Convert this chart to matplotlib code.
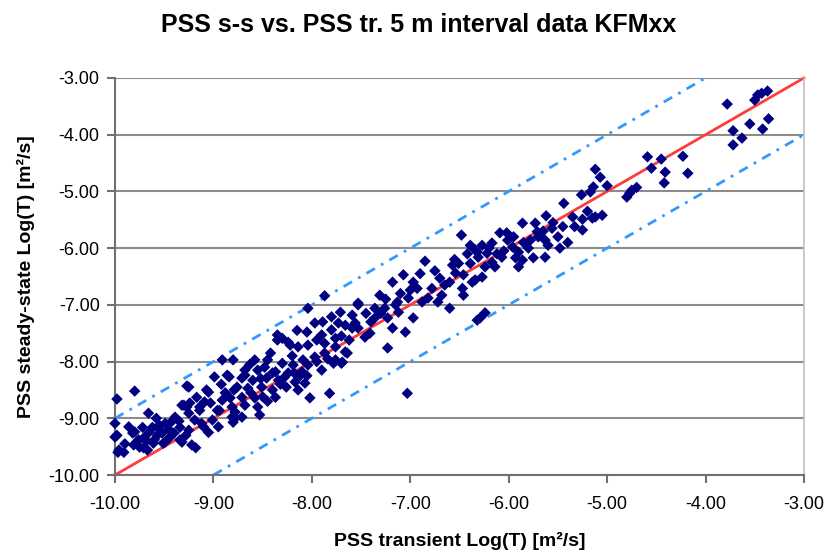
import numpy as np
import matplotlib
matplotlib.use("Agg")
import matplotlib.pyplot as plt

# PSS transient Log(T) / PSS steady-state Log(T)
pss_tr = [
    -9.98, -9.80, -9.66, -10.00, -9.98, -9.96, -9.91, -9.80, -9.76, -9.81,
    -9.71, -9.70, -9.62, -9.55, -9.49, -9.52, -9.60, -9.49, -9.40, -9.39,
    -9.30, -9.25, -9.34, -9.25, -9.22, -9.32, -9.19, -9.14, -9.09, -9.05,
    -8.99, -9.12, -9.01, -8.94, -8.91, -8.83, -8.84, -8.79, -8.78, -9.17,
    -9.27, -9.27, -8.91, -8.80, -9.07, -9.32, -9.24, -9.14, -9.03, -8.81,
    -8.80, -9.34, -8.96, -10.00, -9.97, -9.75, -9.82, -9.72, -9.65, -9.54,
    -9.47, -9.78, -9.67, -9.61, -9.51, -9.44, -9.25, -8.86, -8.81, -9.42,
    -9.58, -9.86, -9.90, -9.18, -8.95, -9.05, -9.57, -9.45, -9.35, -9.28,
    -9.10, -9.68,
    -7.87, -7.53, -8.04, -7.71, -7.59, -7.80, -7.97, -7.89, -7.73, -7.66,
    -7.80, -8.05, -7.90, -7.76, -7.59, -8.35, -8.24, -8.14, -8.04, -7.87,
    -7.76, -7.66, -7.87, -7.97, -8.09, -7.76, -7.69, -8.58, -8.45, -8.30,
    -8.19, -8.04, -7.90, -8.10, -8.68, -8.55, -8.37, -8.24, -8.71, -8.60,
    -8.46, -8.34, -8.17, -8.07, -8.76, -8.65, -8.51, -8.40, -8.14, -8.71,
    -8.58, -8.37, -8.02, -7.82, -8.68, -8.55, -8.53, -8.78, -8.71, -8.35,
    -8.30, -8.22, -8.68, -7.70, -7.78, -7.64, -8.48, -8.28, -8.20, -8.42,
    -8.62, -8.50, -8.12, -7.95, -7.84, -7.95, -8.15, -7.70, -7.62, -8.26,
    -8.45, -8.88, -8.92, -8.63, -8.52, -8.40, -8.32, -8.18, -8.05,
    -6.48, -6.39, -6.32, -6.85, -6.57, -6.51, -6.39, -6.54, -6.46, -6.37,
    -6.70, -6.65, -7.07, -7.18, -6.97, -6.93, -6.78, -7.00, -6.68, -6.47,
    -6.46, -7.31, -7.13, -7.02, -6.88, -6.82, -7.53, -7.36, -7.26, -7.12,
    -6.60, -6.97, -7.23, -7.36, -7.18, -7.53, -7.46, -7.41, -7.05, -7.23,
    -7.56, -7.03, -6.32, -7.40, -6.90, -6.75, -7.10, -6.60, -6.72, -7.45,
    -6.55, -6.42, -7.25, -7.30, -7.15,
    -5.26, -5.17, -5.44, -5.62, -5.15, -5.25, -5.33, -5.25, -5.45, -5.56,
    -5.73, -5.86, -5.71, -5.70, -5.63, -5.60, -5.48, -6.02, -6.09, -6.17,
    -6.27, -6.34, -6.22, -6.31, -6.17, -6.14, -6.07, -5.96, -5.90, -5.93,
    -5.90, -5.86, -5.75, -5.63, -6.24, -6.27, -6.34, -6.24, -6.29, -5.78,
    -6.01, -5.12, -5.07, -5.14, -5.05, -4.75, -4.70, -4.59, -5.50, -5.40,
    -5.80, -6.05, -5.95, -6.12, -5.65, -5.35, -5.55, -6.20, -5.85, -5.00,
    -5.20, -5.12,
    -3.78, -3.50, -3.47, -3.43, -3.37, -3.72, -3.55, -3.36, -3.42, -3.63,
    -3.72, -4.45, -4.23, -4.55, -4.41, -4.18, -4.42, -4.77, -4.80,
]
pss_ss = [
    -8.66, -8.52, -8.91, -9.09, -9.30, -9.56, -9.60, -9.24, -9.38, -9.47,
    -9.52, -9.33, -9.16, -9.12, -9.09, -9.26, -9.38, -9.42, -9.26, -8.98,
    -8.77, -8.45, -9.16, -9.21, -9.47, -9.42, -9.03, -8.86, -8.71, -8.54,
    -8.27, -9.09, -9.03, -8.86, -8.68, -8.64, -8.27, -8.50, -9.00, -8.63,
    -8.80, -8.43, -7.97, -7.97, -8.50, -8.77, -8.73, -8.80, -8.73, -8.98,
    -9.07, -9.38, -8.86, -9.33, -9.60, -9.51, -9.26, -9.16, -9.24, -9.21,
    -9.12, -9.42, -9.56, -9.44, -9.44, -9.33, -8.91, -8.24, -8.80, -9.05,
    -9.00, -9.15, -9.45, -9.52, -9.15, -9.25, -9.30, -9.20, -9.05, -9.30,
    -9.15, -9.40,
    -6.84, -7.00, -7.06, -7.13, -7.18, -7.21, -7.32, -7.30, -7.32, -7.36,
    -7.44, -7.48, -7.53, -7.59, -7.41, -7.62, -7.66, -7.74, -7.71, -7.68,
    -7.74, -7.83, -7.85, -7.92, -7.97, -7.97, -8.01, -7.97, -7.97, -8.03,
    -8.06, -8.06, -8.15, -8.18, -8.15, -8.15, -8.18, -8.20, -8.29, -8.33,
    -8.29, -8.33, -8.36, -8.38, -8.45, -8.47, -8.45, -8.50, -8.50, -8.63,
    -8.64, -8.63, -8.64, -8.56, -8.77, -8.80, -8.94, -8.89, -8.98, -7.53,
    -7.59, -7.71, -8.24, -8.03, -8.03, -7.85, -8.10, -8.28, -7.90, -7.85,
    -8.55, -8.62, -8.25, -8.00, -7.95, -7.62, -7.45, -7.55, -7.62, -8.45,
    -8.70, -8.55, -8.40, -8.05, -8.30, -8.20, -8.40, -8.20, -8.25,
    -5.77, -5.95, -6.07, -6.23, -6.30, -6.27, -6.27, -6.44, -6.47, -6.60,
    -6.53, -6.65, -6.47, -6.60, -6.60, -6.71, -6.71, -6.74, -6.83, -6.71,
    -6.83, -6.83, -6.95, -6.88, -6.95, -6.88, -6.97, -7.06, -7.06, -7.13,
    -7.06, -7.23, -7.23, -7.23, -7.41, -7.41, -7.57, -7.50, -7.48, -7.76,
    -7.32, -8.56, -7.27, -7.30, -6.45, -6.40, -6.80, -6.60, -6.95, -7.15,
    -6.20, -6.10, -6.90, -7.15, -7.00,
    -5.06, -5.01, -5.21, -5.43, -5.47, -5.49, -5.62, -5.68, -5.62, -5.65,
    -5.56, -5.56, -5.71, -5.80, -5.86, -5.95, -6.00, -5.73, -5.73, -5.91,
    -5.95, -6.03, -6.09, -6.16, -6.25, -6.33, -6.16, -5.98, -6.07, -6.17,
    -6.33, -6.21, -6.17, -6.16, -6.33, -6.51, -6.56, -7.14, -7.23, -5.86,
    -5.86, -4.61, -4.75, -4.92, -5.42, -4.98, -4.93, -4.39, -5.80, -5.90,
    -6.00, -6.05, -5.80, -6.10, -5.70, -5.45, -5.55, -6.00, -5.90, -4.90,
    -5.35, -5.45,
    -3.46, -3.39, -3.30, -3.27, -3.23, -3.93, -3.81, -3.72, -3.90, -4.06,
    -4.18, -4.43, -4.38, -4.59, -4.66, -4.68, -4.85, -5.03, -5.10,
]

# reference lines: 1:1 and +/- one order of magnitude
equal_x = [-10.0, -3.0]
equal_y = [-10.0, -3.0]
upper_x = [-10.0, -4.0]
upper_y = [-9.0, -3.0]
lower_x = [-9.0, -3.0]
lower_y = [-10.0, -4.0]

ticks = [-10, -9, -8, -7, -6, -5, -4, -3]
tick_labels = ["-10.00", "-9.00", "-8.00", "-7.00", "-6.00", "-5.00", "-4.00", "-3.00"]


def draw(ax):
    ax.plot(equal_x, equal_y, color='#ff3b3b', lw=2.0, zorder=2, clip_on=False)
    for lx, ly in ((upper_x, upper_y), (lower_x, lower_y)):
        ax.plot(lx, ly, color='#3399ff', lw=2.0, dashes=(3.5, 2.5, 1, 2.5),
                zorder=2, clip_on=False)
    ax.scatter(pss_tr, pss_ss, marker='D', s=34, c='#000080',
               edgecolors='none', zorder=3, clip_on=False)


def style(ax):
    ax.set_xlim(-10, -3)
    ax.set_ylim(-10, -3)
    ax.set_xticks(ticks)
    ax.set_xticklabels(tick_labels)
    ax.set_yticks(ticks)
    ax.set_yticklabels(tick_labels)
    ax.yaxis.grid(True, color='#8c8c8c', lw=1.5)
    ax.set_axisbelow(True)
    for side in ('left', 'bottom'):
        ax.spines[side].set_color('#707070')
        ax.spines[side].set_linewidth(1.5)
    ax.spines['right'].set_color('#c0c0c0')
    ax.spines['right'].set_linewidth(1.2)
    ax.spines['top'].set_visible(False)
    ax.tick_params(axis='both', direction='out', length=6, width=1.5,
                   color='#707070', labelsize=13, pad=5)
    ax.tick_params(axis='x', pad=9)
    ax.set_xlabel('PSS transient Log(T) [m²/s]', fontsize=14,
                  fontweight='bold', labelpad=14)
    ax.set_ylabel('PSS steady-state Log(T) [m²/s]', fontsize=14,
                  fontweight='bold', labelpad=10)


def main():
    plt.rcParams['font.family'] = ['Liberation Sans', 'DejaVu Sans']
    fig = plt.figure(figsize=(8.29, 5.57), dpi=100)
    ax = fig.add_axes([0.1387, 0.1472, 0.8311, 0.7128])
    draw(ax)
    style(ax)
    fig.text(0.505, 0.955, 'PSS s-s vs. PSS tr. 5 m interval data KFMxx',
             ha='center', va='center', fontsize=18, fontweight='bold')
    fig.savefig('out.png', dpi=100)


if __name__ == '__main__':
    main()
